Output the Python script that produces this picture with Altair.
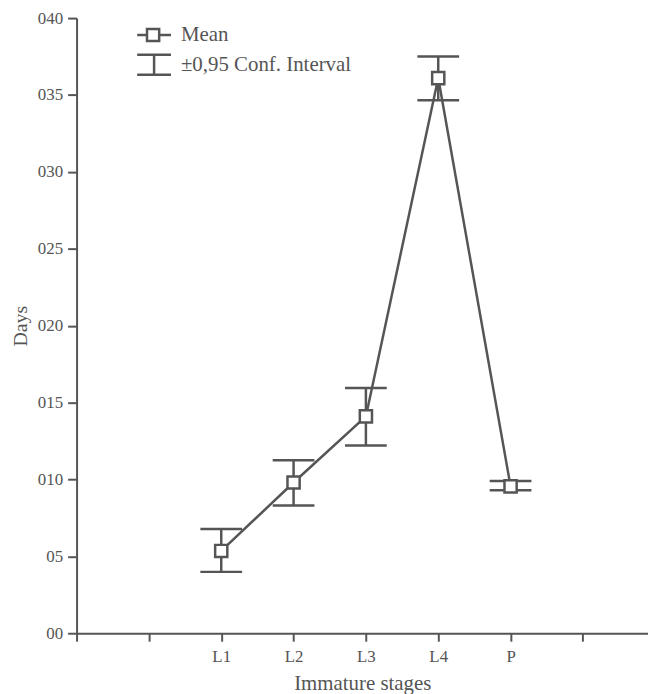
import altair as alt
import pandas as pd

# ---- data ----
stages = ["L1", "L2", "L3", "L4", "P"]
positions = [2, 3, 4, 5, 6]
means = [5.35, 9.8, 14.1, 36.1, 9.55]
ci_low = [3.99, 8.3, 12.2, 34.65, 9.3]
ci_high = [6.78, 11.25, 15.95, 37.5, 9.9]
tick_labels = ["", "", "L1", "L2", "L3", "L4", "P", ""]
y_ticks = [0, 5, 10, 15, 20, 25, 30, 35, 40]

df = pd.DataFrame({"stage": stages, "pos": positions, "mean": means,
                   "lo": ci_low, "hi": ci_high})
leg = pd.DataFrame({"k": [0]})

C = "#555555"
FONT = "Liberation Serif"

xscale = alt.Scale(domain=[0, 7.9], nice=False, zero=False)
yscale = alt.Scale(domain=[0, 40], nice=False)

xaxis = alt.Axis(values=list(range(0, 8)), title="Immature stages",
                 labelExpr="['','','L1','L2','L3','L4','P',''][datum.value]",
                 grid=False, tickSize=8, labelPadding=7, titlePadding=9,
                 titleFontSize=21)
yaxis = alt.Axis(values=y_ticks, title="Days",
                 labelExpr="datum.value == 0 ? '00' : '0' + datum.value",
                 grid=False, tickSize=9, labelPadding=5, titlePadding=7,
                 titleFontSize=20)

base = alt.Chart(df)
X = alt.X("pos:Q", scale=xscale, axis=xaxis)

line = base.mark_line(color=C, strokeWidth=2.5).encode(
    x=X, y=alt.Y("mean:Q", scale=yscale, axis=yaxis))
bars = base.mark_rule(color=C, strokeWidth=2.5).encode(
    x="pos:Q", y="lo:Q", y2="hi:Q")
cap_lo = base.mark_tick(color=C, orient="horizontal", size=42, thickness=2.5, opacity=1).encode(
    x="pos:Q", y="lo:Q")
cap_hi = base.mark_tick(color=C, orient="horizontal", size=42, thickness=2.5, opacity=1).encode(
    x="pos:Q", y="hi:Q")
pts = base.mark_square(fill="white", stroke=C, strokeWidth=2.5, size=150,
                       opacity=1, fillOpacity=1).encode(x="pos:Q", y="mean:Q")

# ---- manual legend ----
lb = alt.Chart(leg)
l_line = lb.mark_rule(color=C, strokeWidth=2.5).encode(
    x=alt.value(61), x2=alt.value(95), y=alt.value(17))
l_sq = lb.mark_square(fill="white", stroke=C, strokeWidth=2.5, size=150,
                      opacity=1, fillOpacity=1).encode(x=alt.value(77), y=alt.value(17))
l_t1 = lb.mark_text(text="Mean", font=FONT, fontSize=21, color=C, align="left",
                    baseline="middle").encode(x=alt.value(105), y=alt.value(17))
l_c1 = lb.mark_rule(color=C, strokeWidth=2.5).encode(
    x=alt.value(61), x2=alt.value(95), y=alt.value(37))
l_c2 = lb.mark_rule(color=C, strokeWidth=2.5).encode(
    x=alt.value(61), x2=alt.value(95), y=alt.value(57))
l_v = lb.mark_rule(color=C, strokeWidth=2.5).encode(
    x=alt.value(78), y=alt.value(37), y2=alt.value(57))
l_t2 = lb.mark_text(text="±0,95 Conf. Interval", font=FONT, fontSize=21, color=C,
                    align="left", baseline="middle").encode(x=alt.value(105), y=alt.value(47))

chart = alt.layer(line, bars, cap_lo, cap_hi, pts,
                  l_line, l_sq, l_t1, l_c1, l_c2, l_v, l_t2).properties(
    width=575, height=619,
    autosize=alt.AutoSizeParams(type="none"),
    padding={"left": 69, "top": 8, "right": 0, "bottom": 59},
).configure_view(strokeWidth=0).configure_axis(
    domainColor=C, domainWidth=2, tickColor=C, tickWidth=2,
    labelFont=FONT, labelFontSize=17, labelColor=C,
    titleFont=FONT, titleColor=C, titleFontWeight="normal",
)

chart.save("out.html", embed_options={"renderer": "svg", "actions": False})
